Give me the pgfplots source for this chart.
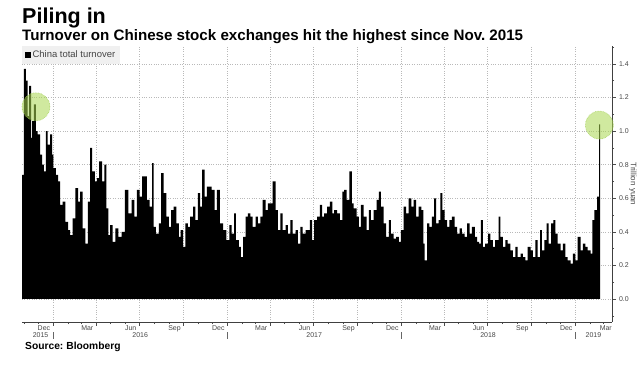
\documentclass[border=0pt]{standalone}
\usepackage{fontspec}
\setmainfont{Liberation Sans}
\usepackage{pgfplots}
\pgfplotsset{compat=1.18}
\definecolor{gridc}{RGB}{185,185,185}
\definecolor{txt}{RGB}{70,70,70}
\definecolor{hl}{RGB}{170,215,80}
\definecolor{hlb}{RGB}{150,200,70}
\definecolor{legbg}{RGB}{240,240,240}
\begin{document}
\begin{tikzpicture}
\useasboundingbox (0bp,0bp) rectangle (638bp,379bp);
\node[anchor=base west, font=\bfseries\fontsize{21.6}{24}\selectfont, inner sep=0] at (22bp,355bp) {Piling in};
\node[anchor=base west, font=\bfseries\fontsize{15.2}{17}\selectfont, inner sep=0] at (22bp,338bp) {Turnover on Chinese stock exchanges hit the highest since Nov.\ 2015};
\node[anchor=base west, font=\bfseries\fontsize{10.3}{12}\selectfont, inner sep=0] at (25bp,30bp) {Source:\hspace{3bp}Bloomberg};
\begin{axis}[
  at={(22bp,57bp)}, anchor=south west,
  scale only axis, width=590bp, height=276bp,
  xmin=-65, xmax=1173, ymin=-0.137, ymax=1.507,
  axis x line*=bottom, axis y line*=right,
  axis line style={-, draw=black!75, line width=0.6bp},
  tick align=outside,
  xtick={0,91,182,274,366,456,547,639,731,821,912,1004,1096},
  xticklabels={},
  minor xtick={-61,-31,31,60,121,152,213,244,305,335,397,425,486,517,578,609,670,700,762,790,851,882,943,974,1035,1065,1127,1155},
  extra x ticks={-19,72,163,255,347,437,528,620,712,802,893,985,1077,1160},
  extra x tick labels={Dec,Mar,Jun,Sep,Dec,Mar,Jun,Sep,Dec,Mar,Jun,Sep,Dec,Mar},
  extra x tick style={major tick length=0pt, grid=none},
  ytick={0,0.2,0.4,0.6,0.8,1.0,1.2,1.4},
  minor ytick={-0.1,0.1,0.3,0.5,0.7,0.9,1.1,1.3,1.5},
  grid=major,
  major grid style={dotted, gridc, line width=0.6bp},
  major tick length=3.5bp, minor tick length=2bp,
  every tick/.style={black!70, line width=0.5bp},
  /pgf/number format/assume math mode=true,
  tick label style={font=\fontsize{7}{8}\selectfont, text=txt},
  yticklabel style={/pgf/number format/fixed, /pgf/number format/fixed zerofill, /pgf/number format/precision=1},
  legend style={at={(rel axis cs:0,1)}, anchor=north west, fill=legbg, draw=none,
    font=\fontsize{9.5}{11}\selectfont, text=txt, inner xsep=3bp, inner ysep=2.5bp},
  legend image code/.code={\fill[black] (0bp,-2.7bp) rectangle (5.4bp,2.7bp);},
  clip=false,
]
\addplot[fill=black, draw=none, const plot] table[x=d, y=v] {
d v
-65 0.74
-61 1.37
-57 1.30
-53 1.09
-50 1.27
-46 0.96
-44 1.06
-40 1.16
-36 1.00
-32 0.98
-27 0.86
-23 0.80
-19 0.76
-15 1.00
-11 0.92
-6 0.98
-2 0.86
1 0.78
6 0.74
11 0.70
15 0.56
20 0.58
26 0.46
32 0.41
36 0.38
41 0.48
47 0.66
53 0.58
57 0.64
62 0.42
68 0.33
73 0.58
78 0.90
82 0.76
88 0.70
92 0.72
97 0.82
103 0.70
108 0.80
112 0.54
116 0.38
120 0.44
125 0.34
131 0.42
137 0.37
144 0.40
151 0.65
158 0.51
165 0.59
171 0.49
176 0.65
182 0.61
187 0.73
192 0.73
197 0.59
203 0.55
208 0.81
211 0.43
216 0.39
222 0.45
227 0.75
232 0.63
238 0.49
243 0.43
248 0.53
253 0.55
259 0.45
264 0.37
268 0.41
273 0.31
278 0.45
283 0.43
288 0.49
294 0.55
299 0.47
304 0.63
309 0.55
313 0.77
318 0.61
323 0.67
329 0.67
333 0.65
339 0.53
344 0.65
350 0.45
357 0.41
364 0.35
370 0.44
375 0.39
380 0.51
384 0.35
390 0.31
394 0.25
399 0.37
404 0.49
409 0.51
414 0.49
419 0.43
425 0.49
430 0.45
435 0.49
440 0.59
446 0.53
451 0.57
456 0.57
461 0.70
467 0.53
472 0.41
477 0.51
482 0.41
488 0.44
493 0.39
498 0.47
503 0.39
509 0.41
514 0.33
519 0.43
524 0.39
530 0.41
539 0.47
544 0.35
548 0.47
554 0.49
560 0.56
565 0.49
569 0.51
575 0.55
581 0.58
586 0.51
590 0.53
596 0.51
602 0.47
607 0.64
611 0.65
616 0.59
622 0.76
627 0.57
631 0.54
637 0.49
642 0.43
646 0.56
652 0.49
658 0.41
663 0.53
667 0.47
673 0.53
679 0.59
684 0.64
688 0.55
694 0.45
699 0.37
705 0.47
709 0.39
715 0.36
720 0.37
726 0.34
730 0.41
736 0.55
741 0.51
746 0.60
752 0.55
757 0.59
762 0.49
767 0.55
773 0.53
777 0.33
780 0.23
785 0.45
790 0.43
795 0.49
800 0.60
804 0.45
809 0.47
813 0.63
817 0.53
822 0.47
827 0.43
832 0.47
837 0.49
843 0.43
848 0.39
853 0.42
858 0.39
864 0.37
869 0.45
874 0.39
879 0.43
885 0.37
890 0.34
894 0.33
898 0.47
902 0.31
907 0.33
913 0.39
918 0.35
923 0.31
928 0.35
935 0.49
939 0.37
944 0.31
949 0.35
954 0.33
960 0.29
965 0.25
970 0.31
975 0.25
981 0.27
986 0.25
991 0.23
996 0.31
1002 0.29
1007 0.25
1012 0.35
1017 0.25
1022 0.41
1026 0.29
1031 0.35
1036 0.45
1040 0.33
1045 0.45
1050 0.47
1054 0.39
1059 0.33
1065 0.29
1070 0.33
1075 0.25
1080 0.23
1086 0.21
1091 0.27
1096 0.23
1101 0.37
1107 0.29
1112 0.33
1117 0.31
1122 0.29
1128 0.27
1132 0.47
1136 0.53
1142 0.61
1146 1.04
1148 0
} \closedcycle;
\addlegendentry{China total turnover}
\addplot[only marks, mark=*, mark size=14bp, forget plot,
  mark options={fill=hl, fill opacity=0.55, draw=hlb, draw opacity=0.8, densely dotted, line width=0.6bp}]
  coordinates {(-35.7,1.145) (1146.5,1.036)};
\draw[black!60, line width=0.5bp] ([yshift=-10bp]axis cs:0,-0.137) -- ([yshift=-17bp]axis cs:0,-0.137);
\draw[black!60, line width=0.5bp] ([yshift=-10bp]axis cs:366,-0.137) -- ([yshift=-17bp]axis cs:366,-0.137);
\draw[black!60, line width=0.5bp] ([yshift=-10bp]axis cs:731,-0.137) -- ([yshift=-17bp]axis cs:731,-0.137);
\draw[black!60, line width=0.5bp] ([yshift=-10bp]axis cs:1096,-0.137) -- ([yshift=-17bp]axis cs:1096,-0.137);
\node[font=\fontsize{7}{8}\selectfont, text=txt] at ([yshift=-13.5bp]axis cs:-26,-0.137) {2015};
\node[font=\fontsize{7}{8}\selectfont, text=txt] at ([yshift=-13.5bp]axis cs:183,-0.137) {2016};
\node[font=\fontsize{7}{8}\selectfont, text=txt] at ([yshift=-13.5bp]axis cs:548,-0.137) {2017};
\node[font=\fontsize{7}{8}\selectfont, text=txt] at ([yshift=-13.5bp]axis cs:913,-0.137) {2018};
\node[font=\fontsize{7}{8}\selectfont, text=txt] at ([yshift=-13.5bp]axis cs:1134,-0.137) {2019};
\node[font=\fontsize{8}{9}\selectfont, text=txt, rotate=-90] at ([xshift=21bp]rel axis cs:1,0.5) {Trillion yuan};
\end{axis}
\end{tikzpicture}
\end{document}
